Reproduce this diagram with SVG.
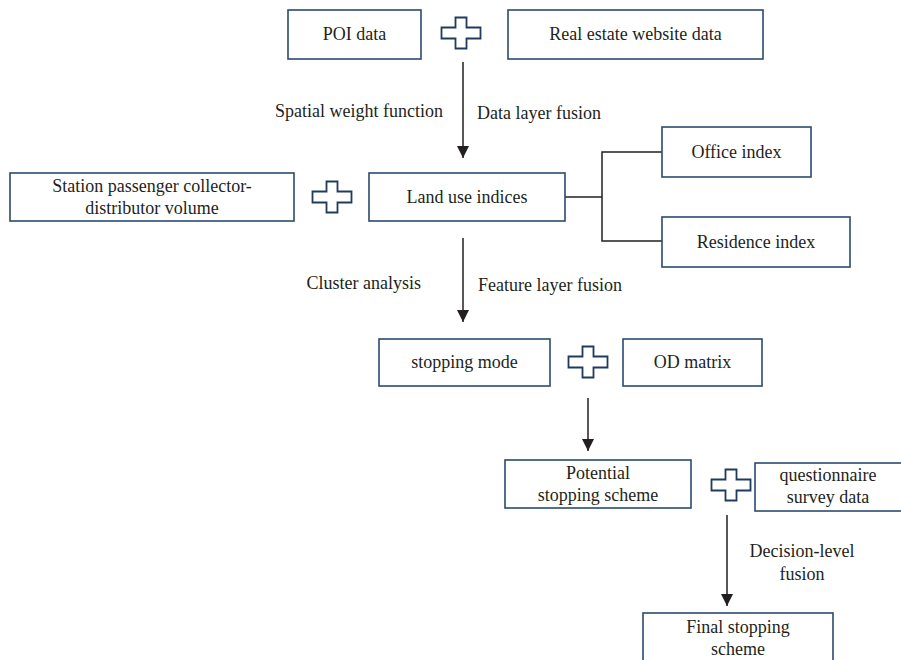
<svg xmlns="http://www.w3.org/2000/svg" xmlns:xlink="http://www.w3.org/1999/xlink" width="901" height="660" viewBox="0 0 901 660">
<style>
.box{fill:#ffffff;stroke:#2b4a6f;stroke-width:1.6}
.plus{fill:#ffffff;stroke:#1f3b5e;stroke-width:1.8}
.t{font-family:"Liberation Serif","DejaVu Serif",serif;font-size:18px;fill:#231f20;text-anchor:middle}
.l{font-family:"Liberation Serif","DejaVu Serif",serif;font-size:18px;fill:#231f20}
.c{fill:none;stroke:#231f20;stroke-width:1.5}
</style>
<defs>
<marker id="ah" markerWidth="12" markerHeight="12" refX="10" refY="5" orient="auto" markerUnits="userSpaceOnUse" viewBox="0 0 10 10">
<path d="M0,0 L10,5 L0,10 z" fill="#231f20"/>
</marker>
<path id="plus" d="M-5.5,-15.5 h11 v10 h14 v11 h-14 v10 h-11 v-10 h-14 v-11 h14 z"/>
</defs>
<rect width="901" height="660" fill="#ffffff"/>
<g id="connectors">
<line class="c" x1="463" y1="62" x2="463" y2="158" marker-end="url(#ah)"/>
<line class="c" x1="463" y1="238" x2="463" y2="322" marker-end="url(#ah)"/>
<line class="c" x1="588" y1="398" x2="588" y2="451" marker-end="url(#ah)"/>
<line class="c" x1="727" y1="515" x2="727" y2="606" marker-end="url(#ah)"/>
<polyline class="c" points="565,197 602,197"/>
<polyline class="c" points="662,152 602,152 602,241 662,241"/>
</g>
<g id="labels">
<text class="l" x="443" y="117" text-anchor="end">Spatial weight function</text>
<text class="l" x="477" y="119">Data layer fusion</text>
<text class="l" x="421" y="289" text-anchor="end">Cluster analysis</text>
<text class="l" x="478" y="291">Feature layer fusion</text>
<text class="t" x="802" y="557">Decision-level</text>
<text class="t" x="802" y="580">fusion</text>
</g>
<g id="plus-signs">
<use xlink:href="#plus" class="plus" x="461" y="33"/>
<use xlink:href="#plus" class="plus" x="332" y="197"/>
<use xlink:href="#plus" class="plus" x="588" y="362"/>
<use xlink:href="#plus" class="plus" x="731" y="485"/>
</g>
<g id="poi">
<rect class="box" x="288" y="10" width="133" height="49"/>
<text class="t" x="354.5" y="40">POI data</text>
</g>
<g id="realestate">
<rect class="box" x="508" y="10" width="255" height="49"/>
<text class="t" x="635.5" y="40">Real estate website data</text>
</g>
<g id="station">
<rect class="box" x="10" y="173" width="284" height="48"/>
<text class="t" x="152" y="192">Station passenger collector-</text>
<text class="t" x="152" y="214">distributor volume</text>
</g>
<g id="landuse">
<rect class="box" x="369" y="173" width="196" height="48"/>
<text class="t" x="467" y="203">Land use indices</text>
</g>
<g id="office">
<rect class="box" x="662" y="127" width="149" height="50"/>
<text class="t" x="736.5" y="158">Office index</text>
</g>
<g id="residence">
<rect class="box" x="662" y="217" width="188" height="50"/>
<text class="t" x="756" y="248">Residence index</text>
</g>
<g id="stopping">
<rect class="box" x="379" y="339" width="171" height="47"/>
<text class="t" x="464.5" y="368">stopping mode</text>
</g>
<g id="od">
<rect class="box" x="623" y="339" width="139" height="47"/>
<text class="t" x="692.5" y="368">OD matrix</text>
</g>
<g id="potential">
<rect class="box" x="505" y="460" width="186" height="48"/>
<text class="t" x="598" y="479">Potential</text>
<text class="t" x="598" y="501">stopping scheme</text>
</g>
<g id="questionnaire">
<rect class="box" x="755" y="463" width="150" height="48"/>
<text class="t" x="828" y="481">questionnaire</text>
<text class="t" x="828" y="503">survey data</text>
</g>
<g id="final">
<rect class="box" x="643" y="613" width="190" height="60"/>
<text class="t" x="738" y="633">Final stopping</text>
<text class="t" x="738" y="655">scheme</text>
</g>
</svg>
